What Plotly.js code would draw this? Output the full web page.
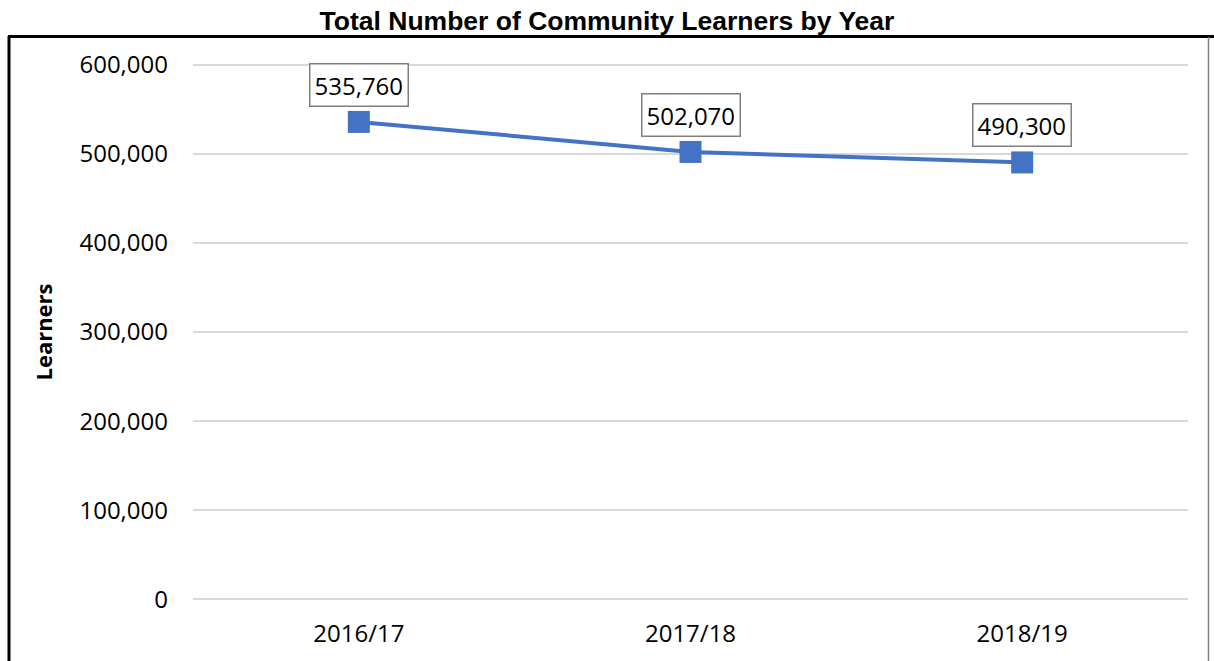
<!DOCTYPE html>
<html>
<head>
<meta charset="utf-8">
<script src="https://cdn.plot.ly/plotly-3.0.1.min.js"></script>
<style>
html,body{margin:0;padding:0;background:#fff;}
#chart{width:1214px;height:661px;}
</style>
</head>
<body>
<div id="chart"></div>
<script>
const years = ["2016/17", "2017/18", "2018/19"];
const learners = [535760, 502070, 490300];
const yTickVals = [0, 100000, 200000, 300000, 400000, 500000, 600000];
const yTickText = ["0", "100,000", "200,000", "300,000", "400,000", "500,000", "600,000"];
const labelText = learners.map(v => v.toLocaleString("en-US"));

const W = 1214, H = 661;
const L = 193, R = 26, T = 62, B = 59;
const pw = W - L - R, ph = H - T - B;
const px = x => (x - L) / pw;
const py = y => (H - B - y) / ph;

const trace = {
  x: years,
  y: learners,
  type: "scatter",
  mode: "lines+markers",
  line: {color: "#4472C4", width: 4},
  marker: {symbol: "square", size: 22, color: "#4472C4"},
  hoverinfo: "x+y"
};

const annotations = years.map((yr, i) => ({
  x: yr, y: learners[i], xref: "x", yref: "y",
  text: labelText[i], showarrow: false,
  yshift: 37, yanchor: "middle",
  font: {family: "Open Sans, sans-serif", size: 24, color: "#000"},
  bordercolor: "#7f7f7f", borderwidth: 1.5, borderpad: 4, bgcolor: "#fff"
}));

const layout = {
  width: W, height: H,
  margin: {l: L, r: R, t: T, b: B},
  paper_bgcolor: "#fff", plot_bgcolor: "#fff",
  showlegend: false,
  title: {
    text: "<b>Total Number of Community Learners by Year</b>",
    font: {family: "Liberation Sans, Arial, sans-serif", size: 26.5, color: "#000"},
    x: 0.5, xanchor: "center", xref: "container",
    y: 1 - 21 / H, yanchor: "middle", yref: "container"
  },
  xaxis: {
    type: "category",
    range: [-0.5, 2.5],
    showgrid: false, zeroline: false, showline: false,
    ticks: "",
    tickfont: {family: "Open Sans, sans-serif", size: 24, color: "#000"},
    ticklabelstandoff: 15
  },
  yaxis: {
    range: [-3000, 603000],
    tickvals: yTickVals, ticktext: yTickText,
    showgrid: true, gridcolor: "#d9d9d9", gridwidth: 2,
    zeroline: false, showline: false, ticks: "",
    tickfont: {family: "Open Sans, sans-serif", size: 24, color: "#000"},
    ticklabelstandoff: 24,
    title: {
      text: "<b>Learners</b>",
      font: {family: "Open Sans, sans-serif", size: 22, color: "#000"},
      standoff: 20
    }
  },
  annotations: annotations,
  shapes: [
    {type: "line", xref: "paper", yref: "paper", x0: px(8), x1: px(1214), y0: py(36.5), y1: py(36.5), line: {color: "#000", width: 3}},
    {type: "line", xref: "paper", yref: "paper", x0: px(9), x1: px(9), y0: py(36), y1: py(661), line: {color: "#000", width: 3}},
    {type: "line", xref: "paper", yref: "paper", x0: px(1208.5), x1: px(1208.5), y0: py(37), y1: py(661), line: {color: "#808080", width: 1.5}}
  ]
};

Plotly.newPlot("chart", [trace], layout, {displayModeBar: false, staticPlot: true});
</script>
</body>
</html>
